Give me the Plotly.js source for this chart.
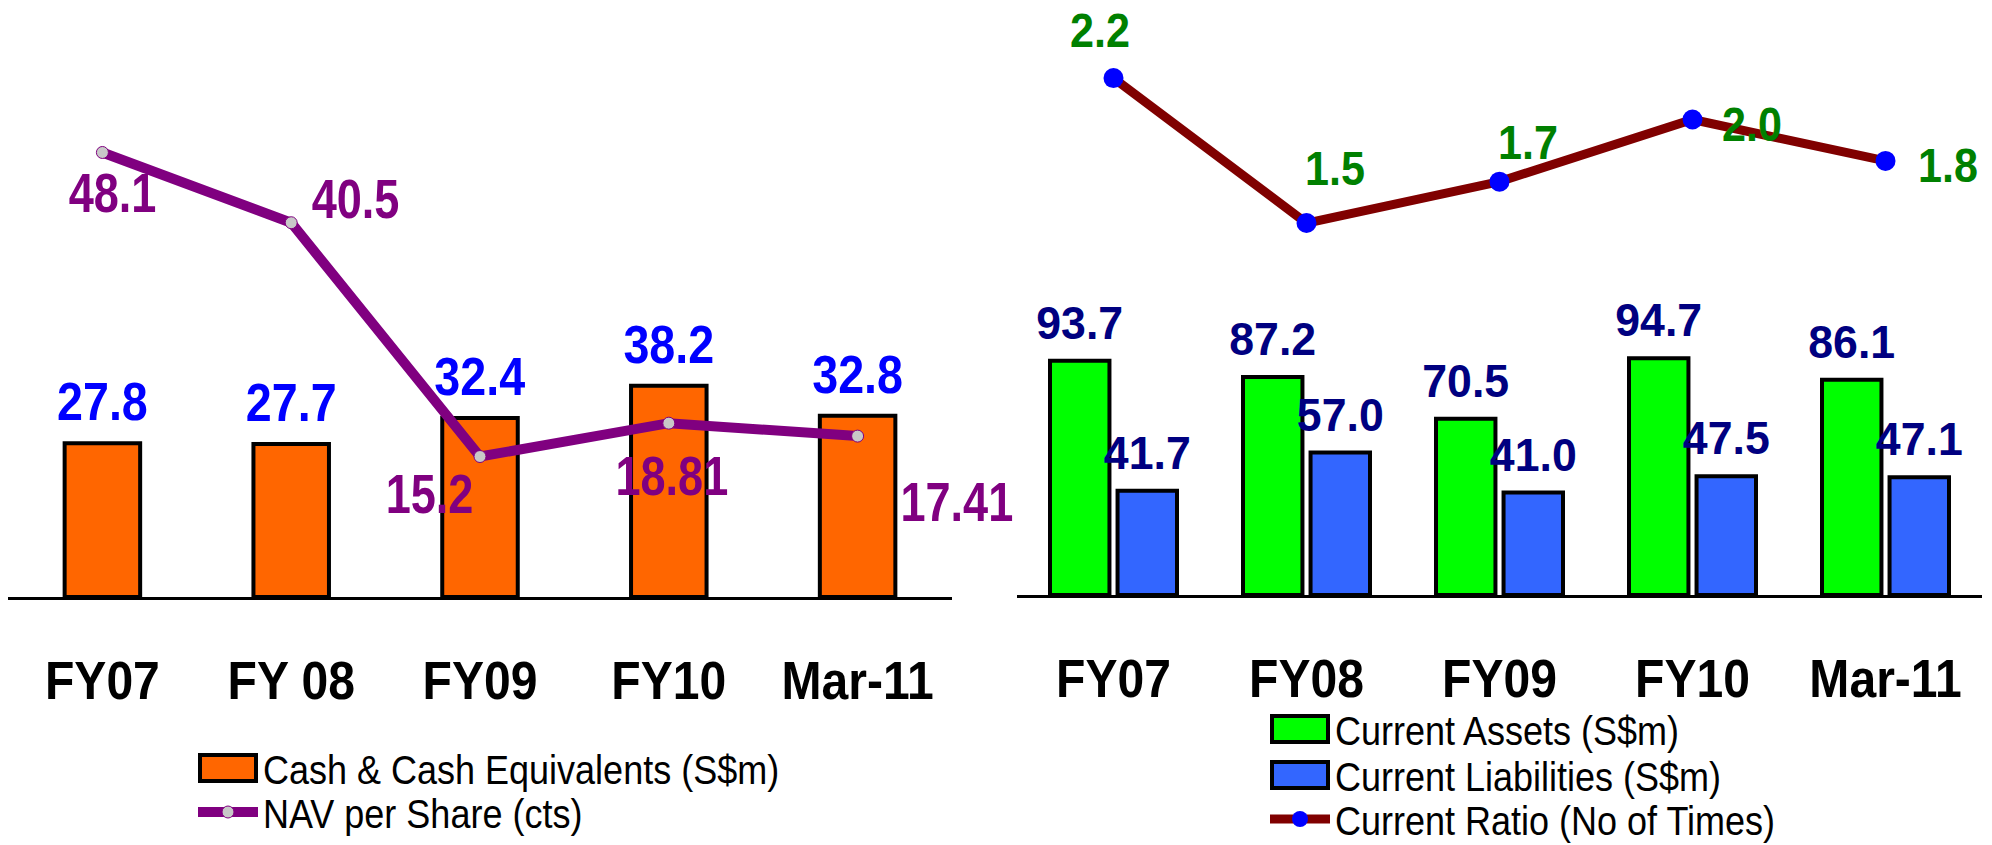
<!DOCTYPE html>
<html>
<head>
<meta charset="utf-8">
<script src="https://cdn.plot.ly/plotly-3.0.1.min.js"></script>
<style>html,body{margin:0;padding:0;background:#fff;}#chart{width:1992px;height:845px;}</style>
</head>
<body>
<div id="chart"></div>
<script>
// ---- data ----
var categoriesLeft = ['FY07', 'FY 08', 'FY09', 'FY10', 'Mar-11'];
var cashEquivalents = [27.8, 27.7, 32.4, 38.2, 32.8];
var navPerShare = [48.1, 40.5, 15.2, 18.81, 17.41];

var categoriesRight = ['FY07', 'FY08', 'FY09', 'FY10', 'Mar-11'];
var currentAssets = [93.7, 87.2, 70.5, 94.7, 86.1];
var currentLiabilities = [41.7, 57.0, 41.0, 47.5, 47.1];
var currentRatio = [2.2, 1.5, 1.7, 2.0, 1.8];

// ---- styling ----
var FONT = "'Liberation Sans Narrow', 'Arial Narrow', 'Liberation Sans', Arial, sans-serif";
// label offsets (pixels) for the hand-placed line labels
var navLabelShift = [[10, -41], [64, 24], [-51, -37], [3, -53], [99, -66]];
var ratioLabelShift = [[-14, 48], [28, 55], [28, 40], [59, -4], [62, -4]];
// horizontal condensing by font size (the original uses a narrow face)
var squeezeBySize = {54: 0.89, 55: 0.82, 53: 0.88, 49: 0.88, 47: 0.95, 40: 0.9};
var barTextLift = 9;

var traces = [
  {
    type: 'bar', name: 'Cash & Cash Equivalents (S$m)',
    x: categoriesLeft, y: cashEquivalents, xaxis: 'x', yaxis: 'y',
    width: 0.4,
    marker: {color: '#FF6600', line: {color: '#000000', width: 4}},
    texttemplate: '%{y:.1f}', textposition: 'outside', constraintext: 'none', cliponaxis: false,
    textfont: {family: FONT, size: 53, color: '#0000FF', weight: 'bold'},
    legend: 'legend', hoverinfo: 'skip'
  },
  {
    type: 'scatter', mode: 'lines+markers', name: 'NAV per Share (cts)',
    x: categoriesLeft, y: navPerShare, xaxis: 'x', yaxis: 'y2',
    line: {color: '#800080', width: 10},
    marker: {symbol: 'circle', size: 12, color: '#C8C8C8', line: {color: '#800080', width: 1}},
    cliponaxis: false, legend: 'legend2', hoverinfo: 'skip'
  },
  {
    type: 'bar', name: 'Current Assets (S$m)',
    x: categoriesRight, y: currentAssets, xaxis: 'x2', yaxis: 'y3',
    marker: {color: '#00FF00', line: {color: '#000000', width: 4}},
    texttemplate: '%{y:.1f}', textposition: 'outside', constraintext: 'none', cliponaxis: false,
    textfont: {family: FONT, size: 47, color: '#000080', weight: 'bold'},
    legend: 'legend3', hoverinfo: 'skip'
  },
  {
    type: 'bar', name: 'Current Liabilities (S$m)',
    x: categoriesRight, y: currentLiabilities, xaxis: 'x2', yaxis: 'y3',
    marker: {color: '#3366FF', line: {color: '#000000', width: 4}},
    texttemplate: '%{y:.1f}', textposition: 'outside', constraintext: 'none', cliponaxis: false,
    textfont: {family: FONT, size: 47, color: '#000080', weight: 'bold'},
    legend: 'legend4', hoverinfo: 'skip'
  },
  {
    type: 'scatter', mode: 'lines+markers', name: 'Current Ratio (No of Times)',
    x: categoriesRight, y: currentRatio, xaxis: 'x2', yaxis: 'y4',
    line: {color: '#800000', width: 9},
    marker: {symbol: 'circle', size: 20, color: '#0000FF'},
    cliponaxis: false, legend: 'legend5', hoverinfo: 'skip'
  }
];

var annotations = [];
categoriesLeft.forEach(function (c, i) {
  annotations.push({
    x: c, y: navPerShare[i], xref: 'x', yref: 'y2', showarrow: false,
    text: String(navPerShare[i]), xanchor: 'center', yanchor: 'middle',
    xshift: navLabelShift[i][0], yshift: navLabelShift[i][1],
    font: {family: FONT, size: 55, color: '#800080', weight: 'bold'}
  });
});
categoriesRight.forEach(function (c, i) {
  annotations.push({
    x: c, y: currentRatio[i], xref: 'x2', yref: 'y4', showarrow: false,
    text: currentRatio[i].toFixed(1), xanchor: 'center', yanchor: 'middle',
    xshift: ratioLabelShift[i][0], yshift: ratioLabelShift[i][1],
    font: {family: FONT, size: 49, color: '#008000', weight: 'bold'}
  });
});

var W = 1992, H = 845;
function legendAt(x, yPix) {
  return {
    x: x / W, y: (H - yPix) / H, xanchor: 'left', yanchor: 'middle', orientation: 'v',
    itemwidth: 60, bgcolor: 'rgba(0,0,0,0)', borderwidth: 0,
    font: {family: FONT, size: 40, color: '#000000'}
  };
}
var tickFont = {family: FONT, size: 54, color: '#000000', weight: 'bold'};

var layout = {
  width: W, height: H,
  margin: {l: 0, r: 0, t: 0, b: 0, autoexpand: false},
  paper_bgcolor: '#FFFFFF', plot_bgcolor: 'rgba(0,0,0,0)',
  barmode: 'group', bargap: 0.3, bargroupgap: 0.12,
  showlegend: true,
  font: {family: FONT},
  annotations: annotations,
  xaxis: {
    domain: [8 / W, 952 / W], anchor: 'y', type: 'category', range: [-0.5, 4.5], autorange: false,
    showline: true, linecolor: '#000000', linewidth: 3, showgrid: false, zeroline: false,
    ticks: '', tickfont: tickFont, ticklabelstandoff: 34, fixedrange: true
  },
  yaxis: {domain: [(H - 597) / H, 1], anchor: 'x', range: [0, 108], autorange: false, visible: false, fixedrange: true},
  yaxis2: {domain: [(H - 597) / H, 1], overlaying: 'y', anchor: 'x', range: [0, 64.6], autorange: false, visible: false, fixedrange: true},
  xaxis2: {
    domain: [1017 / W, 1982 / W], anchor: 'y3', type: 'category', range: [-0.5, 4.5], autorange: false,
    showline: true, linecolor: '#000000', linewidth: 3, showgrid: false, zeroline: false,
    ticks: '', tickfont: tickFont, ticklabelstandoff: 34, fixedrange: true
  },
  yaxis3: {domain: [(H - 595) / H, 1], anchor: 'x2', range: [0, 238], autorange: false, visible: false, fixedrange: true},
  yaxis4: {domain: [(H - 595) / H, 1], overlaying: 'y3', anchor: 'x2', range: [-0.296, 2.577], autorange: false, visible: false, fixedrange: true},
  legend: legendAt(193, 768),
  legend2: legendAt(193, 812),
  legend3: legendAt(1265, 729),
  legend4: legendAt(1265, 775),
  legend5: legendAt(1265, 819)
};

function squeezeTexts() {
  var root = document.getElementById('chart');
  root.querySelectorAll('svg text').forEach(function (el) {
    var fs = Math.round(parseFloat(el.style.fontSize));
    var f = squeezeBySize[fs];
    if (!f) return;
    var x = parseFloat(el.getAttribute('x')) || 0;
    var t = el.getAttribute('transform') || '';
    var lift = el.classList.contains('bartext') ? 'translate(0,' + (-barTextLift) + ') ' : '';
    el.setAttribute('transform', lift + t + ' translate(' + x + ',0) scale(' + f + ',1) translate(' + (-x) + ',0)');
  });
  // larger legend swatches like the original
  root.querySelectorAll('g.legendpoints path').forEach(function (p) {
    var d = p.getAttribute('d') || '';
    if (/^M6,6H-6V-6H6Z/.test(d)) {
      p.setAttribute('d', 'M28,13H-28V-13H28Z');
      p.style.strokeWidth = '4px';
      p.style.stroke = '#000000';
    }
  });
}

Plotly.newPlot('chart', traces, layout, {displayModeBar: false, staticPlot: true}).then(squeezeTexts);
</script>
</body>
</html>
